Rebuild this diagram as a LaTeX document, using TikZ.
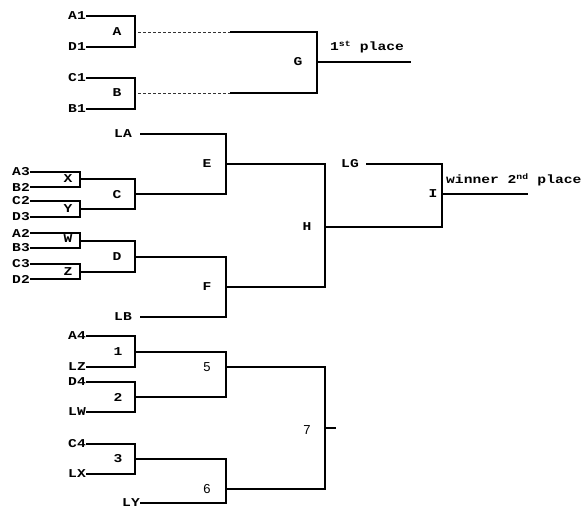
\documentclass[tikz,border=0pt]{standalone}
\usepackage{fontspec}
\newfontfamily\monof[FakeStretch=1.22]{Liberation Mono}
\newfontfamily\sansf{Liberation Sans}
\begin{document}
\begin{tikzpicture}[x=1pt,y=-1pt,
  lbl/.style={font=\monof\bfseries\fontsize{12}{13}\selectfont, inner sep=0pt},
  num/.style={font=\sansf\fontsize{13}{14}\selectfont, inner sep=0pt},
  wire/.style={line width=1.8pt, line join=miter},
  dsh/.style={line width=0.8pt, dash pattern=on 3pt off 2pt, black!80}]
\useasboundingbox (0,0) rectangle (585,508);

% ---------- top section ----------
\node[lbl,anchor=east] (A1) at (86,16) {A1};
\node[lbl,anchor=east] (D1) at (86,47) {D1};
\coordinate (Ab) at (135,47);
\draw[wire] (A1.east) -| (Ab) -- (D1.east);
\node[lbl] (A) at (117,32) {A};
\coordinate (Ao) at (138,32);

\node[lbl,anchor=east] (C1) at (86,78) {C1};
\node[lbl,anchor=east] (B1) at (86,109) {B1};
\coordinate (Bb) at (135,109);
\draw[wire] (C1.east) -| (Bb) -- (B1.east);
\node[lbl] (B) at (117,93) {B};
\coordinate (Bo) at (138,93);

\coordinate (Gt) at (230,32);
\coordinate (Gb) at (230,93);
\coordinate (Gc) at (317,93);
\draw[dsh] (Ao) -- (Gt);
\draw[dsh] (Bo) -- (Gb);
\draw[wire] (Gt) -| (Gc) -- (Gb);
\node[lbl] (G) at (298,62) {G};
\coordinate (Gi) at (317,62);
\coordinate (Go) at (411,62);
\draw[wire] (Gi) -- (Go);
\node[lbl,anchor=west] (first) at (330,47) {1\textsuperscript{st} place};

% ---------- middle section ----------
% X, Y, W, Z
\node[lbl,anchor=east] (A3) at (30,172) {A3};
\node[lbl,anchor=east] (B2) at (30,187) {B2};
\coordinate (Xb) at (80,187);
\draw[wire] (A3.east) -| (Xb) -- (B2.east);
\node[lbl] (X) at (68,179) {X};

\node[lbl,anchor=east] (C2) at (30,201) {C2};
\node[lbl,anchor=east] (D3) at (30,217) {D3};
\coordinate (Yb) at (80,217);
\draw[wire] (C2.east) -| (Yb) -- (D3.east);
\node[lbl] (Y) at (68,209) {Y};

\node[lbl,anchor=east] (A2) at (30,233) {A2};
\node[lbl,anchor=east] (B3) at (30,248) {B3};
\coordinate (Wb) at (80,248);
\draw[wire] (A2.east) -| (Wb) -- (B3.east);
\node[lbl] (W) at (68,239) {W};

\node[lbl,anchor=east] (C3) at (30,264) {C3};
\node[lbl,anchor=east] (D2) at (30,279) {D2};
\coordinate (Zb) at (80,279);
\draw[wire] (C3.east) -| (Zb) -- (D2.east);
\node[lbl] (Z) at (68,272) {Z};

% C bracket
\coordinate (Xo) at (80,179);
\coordinate (Yo) at (80,209);
\coordinate (Cb) at (135,209);
\draw[wire] (Xo) -| (Cb) -- (Yo);
\node[lbl] (C) at (117,195) {C};
\coordinate (Co) at (135,194);

% D bracket
\coordinate (Wo) at (80,241);
\coordinate (Zo) at (80,272);
\coordinate (Db) at (135,272);
\draw[wire] (Wo) -| (Db) -- (Zo);
\node[lbl] (D) at (117,257) {D};
\coordinate (Do) at (135,257);

% E bracket
\node[lbl,anchor=east] (LA) at (132,134) {LA};
\coordinate (LAs) at (140,134);
\coordinate (Eb) at (226,194);
\draw[wire] (LAs) -| (Eb) -- (Co);
\node[lbl] (E) at (207,164) {E};
\coordinate (Eo) at (226,164);

% F bracket
\node[lbl,anchor=east] (LB) at (132,317) {LB};
\coordinate (LBs) at (140,317);
\coordinate (Fb) at (226,317);
\draw[wire] (Do) -| (Fb) -- (LBs);
\node[lbl] (F) at (207,287) {F};
\coordinate (Fo) at (226,287);

% H bracket
\coordinate (Hb) at (325,287);
\draw[wire] (Eo) -| (Hb) -- (Fo);
\node[lbl] (H) at (307,227) {H};
\coordinate (Ho) at (325,227);

% I bracket
\node[lbl,anchor=east] (LG) at (359,164) {LG};
\coordinate (LGs) at (366,164);
\coordinate (Ib) at (442,227);
\draw[wire] (LGs) -| (Ib) -- (Ho);
\node[lbl] (I) at (433,194) {I};
\coordinate (Ii) at (442,194);
\coordinate (Io) at (528,194);
\draw[wire] (Ii) -- (Io);
\node[lbl,anchor=west] (second) at (446,180) {winner 2\textsuperscript{nd} place};

% ---------- bottom section ----------
\node[lbl,anchor=east] (A4) at (86,336) {A4};
\node[lbl,anchor=east] (LZ) at (86,367) {LZ};
\coordinate (1b) at (135,367);
\draw[wire] (A4.east) -| (1b) -- (LZ.east);
\node[lbl] (n1) at (118,352) {1};
\coordinate (1o) at (135,352);

\node[lbl,anchor=east] (D4) at (86,382) {D4};
\node[lbl,anchor=east] (LW) at (86,412) {LW};
\coordinate (2b) at (135,412);
\draw[wire] (D4.east) -| (2b) -- (LW.east);
\node[lbl] (n2) at (118,397) {2};
\coordinate (2o) at (135,397);

\node[lbl,anchor=east] (C4) at (86,444) {C4};
\node[lbl,anchor=east] (LX) at (86,474) {LX};
\coordinate (3b) at (135,474);
\draw[wire] (C4.east) -| (3b) -- (LX.east);
\node[lbl] (n3) at (118,459) {3};
\coordinate (3o) at (135,459);

\node[lbl,anchor=east] (LY) at (140,503) {LY};

% bracket 5
\coordinate (5b) at (226,397);
\draw[wire] (1o) -| (5b) -- (2o);
\node[num] (n5) at (207,367) {5};
\coordinate (5o) at (226,367);

% bracket 6
\coordinate (6b) at (226,503);
\draw[wire] (3o) -| (6b) -- (LY.east);
\node[num] (n6) at (207,489) {6};
\coordinate (6o) at (226,489);

% bracket 7
\coordinate (7b) at (325,489);
\draw[wire] (5o) -| (7b) -- (6o);
\node[num] (n7) at (307,430) {7};
\coordinate (7i) at (325,428);
\coordinate (7o) at (336,428);
\draw[wire] (7i) -- (7o);
\end{tikzpicture}
\end{document}
